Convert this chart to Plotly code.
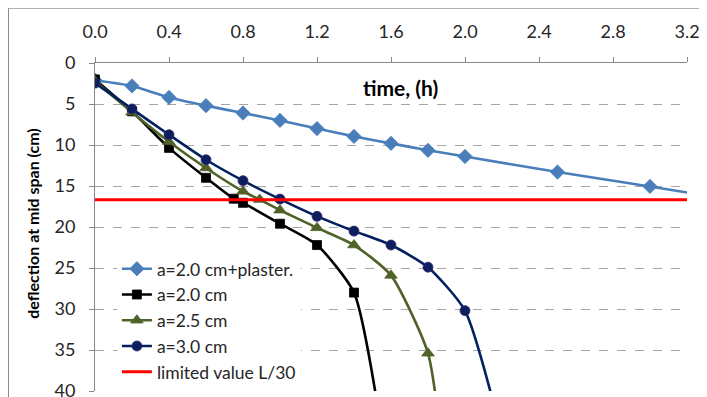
import plotly.graph_objects as go

# time (h) and deflection (cm) values
t_plaster = [0.0, 0.2, 0.4, 0.6, 0.8, 1.0, 1.2, 1.4, 1.6, 1.8, 2.0, 2.5, 3.0, 3.5]
d_plaster = [2.1, 2.8, 4.2, 5.2, 6.1, 7.0, 8.0, 8.95, 9.8, 10.65, 11.4, 13.3, 15.05, 16.9]

t_a20 = [0.0, 0.2, 0.4, 0.6, 0.75, 0.8, 1.0, 1.2, 1.4, 1.55]
d_a20 = [2.0, 5.9, 10.35, 14.0, 16.55, 17.05, 19.6, 22.2, 28.0, 45.0]

t_a25 = [0.0, 0.2, 0.4, 0.6, 0.8, 0.89, 1.0, 1.2, 1.4, 1.6, 1.8, 1.88]
d_a25 = [2.2, 6.0, 9.6, 12.8, 15.65, 16.65, 17.95, 20.1, 22.2, 25.9, 35.4, 48.0]

t_a30 = [0.0, 0.2, 0.4, 0.6, 0.8, 1.0, 1.2, 1.4, 1.6, 1.8, 2.0, 2.2]
d_a30 = [2.45, 5.6, 8.75, 11.8, 14.35, 16.6, 18.7, 20.5, 22.2, 24.9, 30.2, 45.5]

t_limit = [0.0, 3.2]
d_limit = [16.67, 16.67]

x_ticks = [0.0, 0.4, 0.8, 1.2, 1.6, 2.0, 2.4, 2.8, 3.2]
y_ticks = [0, 5, 10, 15, 20, 25, 30, 35, 40]

FONT = "Lato"
TXT = "#262626"
fig = go.Figure()

def add(x, y, name, color, symbol, msize, mcolor=None, mline=None):
    fig.add_trace(go.Scatter(
        x=x, y=y, name=name, mode="lines+markers", legendgroup=name,
        line=dict(color=color, width=2.6, shape="spline", smoothing=0.6),
        marker=dict(symbol=symbol, size=msize, color=mcolor or color,
                    line=dict(width=0.8, color=mline or mcolor or color)),
    ))

add(t_plaster, d_plaster, "a=2.0 cm+plaster.", "#4A7EBB", "diamond", 11)
add(t_a20, d_a20, "a=2.0 cm", "#000000", "square", 9)
add(t_a25, d_a25, "a=2.5 cm", "#4F6228", "triangle-up", 11)
add(t_a30, d_a30, "a=3.0 cm", "#002060", "circle", 10, "#0B1F5E", "#3B2A6E")

fig.add_trace(go.Scatter(
    x=t_limit, y=d_limit, name="limited value L/30", mode="lines",
    legendgroup="limit", line=dict(color="#FF0000", width=3),
))

# page body has an 8px margin, so the figure is laid out at offset (8, 8);
# the figure runs past the window bottom, cropping the last tick label as in the original
W, H = 699, 397
L, T, R, B = 87, 55.3, 20.3, 14
PW, PH = W - L - R, H - T - B

fig.update_layout(
    width=W, height=H,
    margin=dict(l=L, r=R, t=T, b=B, pad=0, autoexpand=False),
    paper_bgcolor="white", plot_bgcolor="white",
    font=dict(family=FONT, size=18, color=TXT),
    showlegend=True,
    legend=dict(
        x=0.037, y=1 - (243 - T) / PH, xanchor="left", yanchor="top",
        bgcolor="white", borderwidth=0, tracegroupgap=0,
        font=dict(family=FONT, size=17.5, color=TXT),
        itemwidth=30,
    ),
    xaxis=dict(
        side="top", range=[0, 3.2], tickvals=x_ticks, tickformat=".1f",
        showgrid=False, zeroline=False, showline=True, automargin=False,
        linecolor="#868686", linewidth=1,
        ticks="outside", ticklen=5, tickcolor="#868686",
        ticklabelstandoff=12,
        tickfont=dict(family=FONT, size=18, color=TXT),
    ),
    yaxis=dict(
        range=[40, 0], tickvals=y_ticks, automargin=False,
        showgrid=True, gridcolor="#A6A6A6", griddash="dash", gridwidth=1,
        zeroline=False, showline=True, linecolor="#868686", linewidth=1,
        ticks="outside", ticklen=5, tickcolor="#868686",
        ticklabelstandoff=10,
        tickfont=dict(family=FONT, size=18, color=TXT),
    ),
    annotations=[
        dict(text="<b>time, (h)</b>", xref="x", yref="paper",
             x=1.65, y=1 - (80 - T) / PH, xanchor="center", yanchor="middle",
             showarrow=False, font=dict(family=FONT, size=21, color="#000000")),
        dict(text="<b>deflection at mid span (cm)</b>", xref="paper", yref="paper",
             x=(25 - L) / PW, y=1 - (215 - T) / PH, xanchor="center", yanchor="middle",
             textangle=-90, showarrow=False,
             font=dict(family=FONT, size=16, color="#000000")),
    ],
    shapes=[dict(
        type="rect", xref="paper", yref="paper",
        x0=(0.5 - L) / PW, x1=1.2, y0=-0.2, y1=1 + (T - 0.5) / PH,
        line=dict(color="#868686", width=1), fillcolor="rgba(0,0,0,0)", layer="below",
    )],
)

fig.write_html("out.html")
